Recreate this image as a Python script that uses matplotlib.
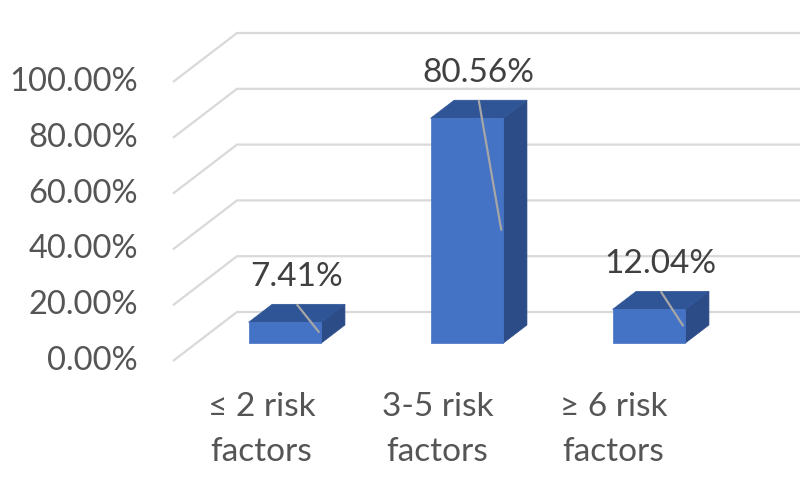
import numpy as np
import matplotlib
matplotlib.use("Agg")
import matplotlib.pyplot as plt
from matplotlib.patches import Polygon

plt.rcParams['font.family'] = ['Lato', 'DejaVu Sans']

# --- donnees ---
categories = ["\u2264 2 risk\nfactors", "3-5 risk\nfactors", "\u2265 6 risk\nfactors"]
valeurs = [7.41, 80.56, 12.04]
labels = ["7.41%", "80.56%", "12.04%"]
ticks = [0, 20, 40, 60, 80, 100]
tick_labels = ["0.00%", "20.00%", "40.00%", "60.00%", "80.00%", "100.00%"]

# --- geometrie "3D" (projection oblique) ---
PX_CAT = 182.0      # pixels par categorie
PX_PCT = 2.79       # pixels par %
DX = 64 / PX_CAT    # decalage profondeur (x) pour z=1
DV = 49 / PX_PCT    # decalage profondeur (y) pour z=1
Z0, Z1 = 0.367, 0.735
W = 0.40
X_WALL = (173 - 261.5) / PX_CAT
PAS_LABEL = 176 / PX_CAT   # les etiquettes de categorie sont un peu plus serrees

C_FRONT, C_TOP, C_SIDE = "#4472C4", "#2F5597", "#2B4C86"
C_GRID, C_LEAD = "#D9D9D9", "#A6A6A6"
C_TXT = "#555555"


def P(x, v, z):
    return (x + DX * z, v + DV * z)


fig = plt.figure(figsize=(8, 4.82), dpi=100)
ax = fig.add_axes([0, 0, 1, 1])
ax.set_xlim(-261.5 / PX_CAT, (800 - 261.5) / PX_CAT)
ax.set_ylim((361 - 482) / PX_PCT, 361 / PX_PCT)
ax.axis("off")

# grille : mur lateral + mur du fond
for v, lab in zip(ticks, tick_labels):
    a = P(X_WALL, v, 0)
    b = P(X_WALL, v, 1)
    ax.plot([a[0], b[0], ax.get_xlim()[1]], [a[1], b[1], b[1]],
            color=C_GRID, lw=1.6, zorder=1, solid_capstyle="butt")
    ax.text(X_WALL - 35 / PX_CAT, v, lab, ha="right", va="center",
            fontsize=23.5, color=C_TXT)

# barres
for i, (val, lab, cat) in enumerate(zip(valeurs, labels, categories)):
    xl, xr = i - W / 2, i + W / 2
    front = [P(xl, 0, Z0), P(xr, 0, Z0), P(xr, val, Z0), P(xl, val, Z0)]
    top = [P(xl, val, Z0), P(xr, val, Z0), P(xr, val, Z1), P(xl, val, Z1)]
    side = [P(xr, 0, Z0), P(xr, 0, Z1), P(xr, val, Z1), P(xr, val, Z0)]
    for pts, c in [(side, C_SIDE), (top, C_TOP), (front, C_FRONT)]:
        ax.add_patch(Polygon(pts, closed=True, facecolor=c, edgecolor=c,
                             lw=0.5, zorder=2))

    # etiquette + ligne de repere
    ancre = (P(i, val, (Z0 + Z1) / 2)[0], P(i, val, Z1)[1])
    fin = P(xr - 0.011, val / 2, Z0)
    ax.plot([ancre[0], fin[0]], [ancre[1], fin[1]], color=C_LEAD, lw=1.6,
            zorder=3, solid_capstyle="butt")
    ax.annotate(lab, xy=ancre, xytext=(0, 27), textcoords="offset pixels",
                ha="center", va="center", fontsize=24, color="#404040", zorder=4)

    # categorie
    ax.text(i * PAS_LABEL, -11.0, cat, ha="center", va="top", fontsize=24,
            color=C_TXT, linespacing=1.62)

fig.savefig("out.png", dpi=100)
